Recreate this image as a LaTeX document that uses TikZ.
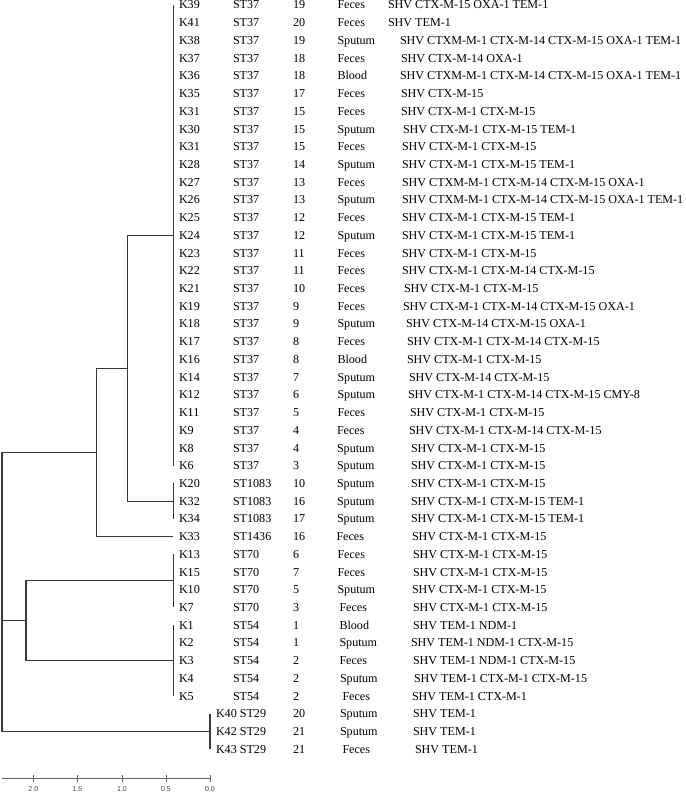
\documentclass[tikz,border=0pt]{standalone}
\usepackage{fontspec}
\setmainfont{Liberation Serif}
\newfontfamily\axisfont{Liberation Sans}
\begin{document}
\begin{tikzpicture}[x=1pt,y=-1pt,
  lab/.style={anchor=base west, inner sep=0pt, outer sep=0pt, font=\fontsize{12.1}{14}\selectfont},
  ticklab/.style={anchor=north, inner sep=0pt, font=\axisfont\fontsize{7}{8}\selectfont, text=black!75},
  tree/.style={line width=1.1pt, draw=black!78},
  axis/.style={line width=0.8pt, draw=black!60}]
\useasboundingbox (0,0) rectangle (685,794);
\newcommand\rw[8]{%
  \pgfmathsetmacro\yy{5+17.72*#1+4}
  \node[lab] (k#1) at (179,\yy) {#2};
  \node[lab] (s#1) at (233,\yy) {#3};
  \node[lab] (n#1) at (293,\yy) {#4};
  \node[lab] (o#1) at (#6,\yy) {#5};
  \node[lab] (g#1) at (#8,\yy) {#7};
}
\rw{0}{K39}{ST37}{19}{Feces}{337.5}{SHV CTX-M-15 OXA-1 TEM-1}{388}
\rw{1}{K41}{ST37}{20}{Feces}{337.5}{SHV TEM-1}{388}
\rw{2}{K38}{ST37}{19}{Sputum}{337.5}{SHV CTXM-M-1 CTX-M-14 CTX-M-15 OXA-1 TEM-1}{400}
\rw{3}{K37}{ST37}{18}{Feces}{337.5}{SHV CTX-M-14 OXA-1}{401}
\rw{4}{K36}{ST37}{18}{Blood}{337.5}{SHV CTXM-M-1 CTX-M-14 CTX-M-15 OXA-1 TEM-1}{400}
\rw{5}{K35}{ST37}{17}{Feces}{337.5}{SHV CTX-M-15}{401}
\rw{6}{K31}{ST37}{15}{Feces}{337.5}{SHV CTX-M-1 CTX-M-15}{401}
\rw{7}{K30}{ST37}{15}{Sputum}{337.5}{SHV CTX-M-1 CTX-M-15 TEM-1}{403}
\rw{8}{K31}{ST37}{15}{Feces}{337.5}{SHV CTX-M-1 CTX-M-15}{402}
\rw{9}{K28}{ST37}{14}{Sputum}{337.5}{SHV CTX-M-1 CTX-M-15 TEM-1}{402}
\rw{10}{K27}{ST37}{13}{Feces}{337.5}{SHV CTXM-M-1 CTX-M-14 CTX-M-15 OXA-1}{402}
\rw{11}{K26}{ST37}{13}{Sputum}{337.5}{SHV CTXM-M-1 CTX-M-14 CTX-M-15 OXA-1 TEM-1}{402}
\rw{12}{K25}{ST37}{12}{Feces}{337.5}{SHV CTX-M-1 CTX-M-15 TEM-1}{402}
\rw{13}{K24}{ST37}{12}{Sputum}{337.5}{SHV CTX-M-1 CTX-M-15 TEM-1}{402}
\rw{14}{K23}{ST37}{11}{Feces}{337.5}{SHV CTX-M-1 CTX-M-15}{402}
\rw{15}{K22}{ST37}{11}{Feces}{337.5}{SHV CTX-M-1 CTX-M-14 CTX-M-15}{402}
\rw{16}{K21}{ST37}{10}{Feces}{337.5}{SHV CTX-M-1 CTX-M-15}{404}
\rw{17}{K19}{ST37}{9}{Feces}{337.5}{SHV CTX-M-1 CTX-M-14 CTX-M-15 OXA-1}{403}
\rw{18}{K18}{ST37}{9}{Sputum}{337.5}{SHV CTX-M-14 CTX-M-15 OXA-1}{406}
\rw{19}{K17}{ST37}{8}{Feces}{337.5}{SHV CTX-M-1 CTX-M-14 CTX-M-15}{407}
\rw{20}{K16}{ST37}{8}{Blood}{337.5}{SHV CTX-M-1 CTX-M-15}{407}
\rw{21}{K14}{ST37}{7}{Sputum}{337.5}{SHV CTX-M-14 CTX-M-15}{409}
\rw{22}{K12}{ST37}{6}{Sputum}{337.5}{SHV CTX-M-1 CTX-M-14 CTX-M-15 CMY-8}{408}
\rw{23}{K11}{ST37}{5}{Feces}{337.5}{SHV CTX-M-1 CTX-M-15}{410}
\rw{24}{K9}{ST37}{4}{Feces}{337}{SHV CTX-M-1 CTX-M-14 CTX-M-15}{409}
\rw{25}{K8}{ST37}{4}{Sputum}{337}{SHV CTX-M-1 CTX-M-15}{411}
\rw{26}{K6}{ST37}{3}{Sputum}{337}{SHV CTX-M-1 CTX-M-15}{411}
\rw{27}{K20}{ST1083}{10}{Sputum}{337}{SHV CTX-M-1 CTX-M-15}{411}
\rw{28}{K32}{ST1083}{16}{Sputum}{337}{SHV CTX-M-1 CTX-M-15 TEM-1}{411}
\rw{29}{K34}{ST1083}{17}{Sputum}{337}{SHV CTX-M-1 CTX-M-15 TEM-1}{411}
\rw{30}{K33}{ST1436}{16}{Feces}{336.5}{SHV CTX-M-1 CTX-M-15}{412}
\rw{31}{K13}{ST70}{6}{Feces}{337.5}{SHV CTX-M-1 CTX-M-15}{413}
\rw{32}{K15}{ST70}{7}{Feces}{337.5}{SHV CTX-M-1 CTX-M-15}{413}
\rw{33}{K10}{ST70}{5}{Sputum}{337.5}{SHV CTX-M-1 CTX-M-15}{412}
\rw{34}{K7}{ST70}{3}{Feces}{339.5}{SHV CTX-M-1 CTX-M-15}{413}
\rw{35}{K1}{ST54}{1}{Blood}{339.5}{SHV TEM-1 NDM-1}{413}
\rw{36}{K2}{ST54}{1}{Sputum}{339.5}{SHV TEM-1 NDM-1 CTX-M-15}{411}
\rw{37}{K3}{ST54}{2}{Feces}{339.5}{SHV TEM-1 NDM-1 CTX-M-15}{413}
\rw{38}{K4}{ST54}{2}{Sputum}{340}{SHV TEM-1 CTX-M-1 CTX-M-15}{414}
\rw{39}{K5}{ST54}{2}{Feces}{342.5}{SHV TEM-1 CTX-M-1}{412}
% ST29 rows
\node[lab] (k40) at (216,{5+17.72*40+4}) {K40 ST29};
\node[lab] (n40) at (293,{5+17.72*40+4}) {20};
\node[lab] (o40) at (340,{5+17.72*40+4}) {Sputum};
\node[lab] (g40) at (413,{5+17.72*40+4}) {SHV TEM-1};
\node[lab] (k41) at (216,{5+17.72*41+4}) {K42 ST29};
\node[lab] (n41) at (293,{5+17.72*41+4}) {21};
\node[lab] (o41) at (340,{5+17.72*41+4}) {Sputum};
\node[lab] (g41) at (413,{5+17.72*41+4}) {SHV TEM-1};
\node[lab] (k42) at (216,{5+17.72*42+4}) {K43 ST29};
\node[lab] (n42) at (293,{5+17.72*42+4}) {21};
\node[lab] (o42) at (342.5,{5+17.72*42+4}) {Feces};
\node[lab] (g42) at (415,{5+17.72*42+4}) {SHV TEM-1};
% dendrogram coordinates
\coordinate (A1) at (173.3,5);
\coordinate (A2) at (173.3,465.72);
\coordinate (Aj) at (173.3,235.36);
\coordinate (B1) at (173.3,483.44);
\coordinate (B2) at (173.3,518.88);
\coordinate (Bj) at (173.3,501.16);
\coordinate (Lj) at (173.3,536.6);
\coordinate (C) at (127.3,368.26);
\coordinate (D) at (96.7,452.43);
\coordinate (E1) at (173.3,554.32);
\coordinate (E2) at (173.3,607.48);
\coordinate (Ej) at (173.3,580.9);
\coordinate (F1) at (173.3,625.2);
\coordinate (F2) at (173.3,696.08);
\coordinate (Fj) at (173.3,660.64);
\coordinate (G) at (26,620.77);
\coordinate (H1) at (210,713.8);
\coordinate (H2) at (210,749.24);
\coordinate (Hj) at (210,731.52);
\coordinate (Rt) at (2,452.43);
\coordinate (Rm) at (2,620.77);
\coordinate (Rb) at (2,731.52);
\draw[tree] (A1) -- (A2);
\draw[tree] (B1) -- (B2);
\draw[tree] (E1) -- (E2);
\draw[tree] (F1) -- (F2);
\draw[tree] (H1) -- (H2);
\draw[tree] (Aj) -| (C) |- (Bj);
\draw[tree] (Lj) -| (D) |- (C);
\draw[tree] (Ej) -| (G) |- (Fj);
\draw[tree] (D) -- (Rt) -- (Rb) -- (Hj);
\draw[tree] (G) -- (Rm);
% scale axis
\coordinate (ax0) at (2,778.3);
\coordinate (ax1) at (210,778.3);
\draw[axis] (ax0) -- (ax1);
\foreach \xx/\tl [count=\i] in {33.3/2.0,77.3/1.5,122/1.0,166/0.5,210/0.0}{
  \coordinate (tk\i) at (\xx,775);
  \coordinate (tb\i) at (\xx,782);
  \draw[axis] (tk\i) -- (tb\i);
  \node[ticklab] (tl\i) at (\xx,786.6) {\tl};
}
\end{tikzpicture}
\end{document}
